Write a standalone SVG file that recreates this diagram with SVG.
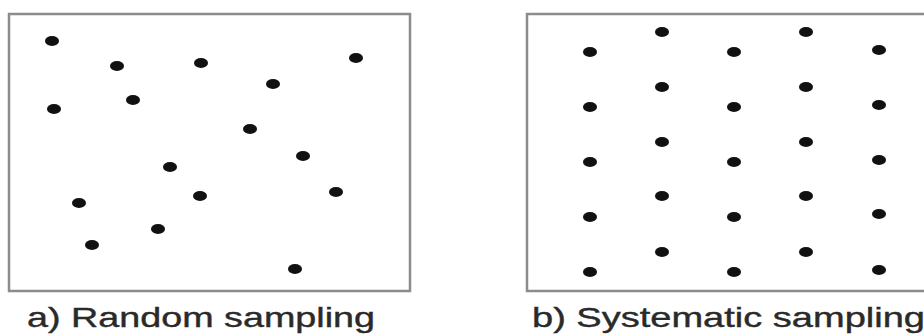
<svg xmlns="http://www.w3.org/2000/svg" width="924" height="334" viewBox="0 0 924 334">
<style>
.box{fill:#fff;stroke:#8c8c8c;stroke-width:2.5}
.dot{fill:#111}
.lbl{font-family:"Liberation Sans",Arial,sans-serif;font-size:28px;fill:#2a2a2a;stroke:#2a2a2a;stroke-width:0.4}
</style>
<defs>
<ellipse id="d" class="dot" cx="0" cy="0" rx="7" ry="5"/>
</defs>
<rect width="924" height="334" fill="#fff"/>
<g id="random">
<rect class="box" x="9" y="14" width="401" height="277"/>
<use href="#d" x="52" y="41"/>
<use href="#d" x="117" y="66"/>
<use href="#d" x="201" y="63"/>
<use href="#d" x="356" y="58"/>
<use href="#d" x="273" y="84"/>
<use href="#d" x="133" y="100"/>
<use href="#d" x="54" y="109"/>
<use href="#d" x="250" y="129"/>
<use href="#d" x="303" y="156"/>
<use href="#d" x="170" y="167"/>
<use href="#d" x="200" y="196"/>
<use href="#d" x="336" y="192"/>
<use href="#d" x="79" y="203"/>
<use href="#d" x="158" y="229"/>
<use href="#d" x="92" y="245"/>
<use href="#d" x="295" y="269"/>
<text class="lbl" x="27" y="327" textLength="348" lengthAdjust="spacingAndGlyphs">a) Random sampling</text>
</g>
<g id="systematic">
<rect class="box" x="527" y="14" width="420" height="277"/>
<use href="#d" x="590" y="52"/>
<use href="#d" x="590" y="107"/>
<use href="#d" x="590" y="162"/>
<use href="#d" x="590" y="217"/>
<use href="#d" x="590" y="272"/>
<use href="#d" x="662" y="32"/>
<use href="#d" x="662" y="87"/>
<use href="#d" x="662" y="142"/>
<use href="#d" x="662" y="196"/>
<use href="#d" x="662" y="252"/>
<use href="#d" x="734" y="52"/>
<use href="#d" x="734" y="107"/>
<use href="#d" x="734" y="162"/>
<use href="#d" x="734" y="217"/>
<use href="#d" x="734" y="272"/>
<use href="#d" x="806" y="32"/>
<use href="#d" x="806" y="87"/>
<use href="#d" x="806" y="142"/>
<use href="#d" x="806" y="196"/>
<use href="#d" x="806" y="252"/>
<use href="#d" x="879" y="50"/>
<use href="#d" x="879" y="105"/>
<use href="#d" x="879" y="160"/>
<use href="#d" x="879" y="214"/>
<use href="#d" x="879" y="270"/>
<text class="lbl" x="532" y="327" textLength="393" lengthAdjust="spacingAndGlyphs">b) Systematic sampling</text>
</g>
<g id="connectors"/>
</svg>
